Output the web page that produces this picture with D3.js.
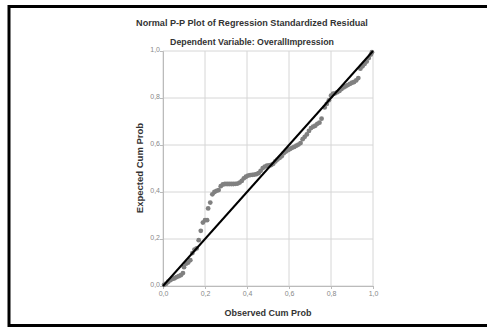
<!DOCTYPE html>
<html>
<head>
<meta charset="utf-8">
<script src="https://cdn.jsdelivr.net/npm/d3@7"></script>
<style>
  body { margin: 0; background: #fff; }
  text { font-family: "Liberation Sans", Arial, sans-serif; }
</style>
</head>
<body>
<div id="wrapper"></div>
<script>
const observed = [0.005, 0.015, 0.025, 0.035, 0.045, 0.055, 0.065, 0.075, 0.085, 0.095,
  0.10, 0.11, 0.12, 0.13, 0.14, 0.15, 0.16, 0.17, 0.18, 0.19,
  0.20, 0.21, 0.215, 0.225, 0.235, 0.245, 0.255, 0.265, 0.275, 0.285,
  0.295, 0.305, 0.315, 0.325, 0.335, 0.345, 0.355, 0.365, 0.375, 0.385,
  0.395, 0.405, 0.415, 0.425, 0.435, 0.445, 0.455, 0.465, 0.475, 0.485,
  0.495, 0.505, 0.515, 0.525, 0.535, 0.545, 0.555, 0.565, 0.575, 0.585,
  0.595, 0.605, 0.615, 0.625, 0.635, 0.645, 0.655, 0.665, 0.675, 0.685,
  0.695, 0.705, 0.715, 0.725, 0.735, 0.745, 0.755, 0.77, 0.78, 0.79,
  0.80, 0.81, 0.82, 0.83, 0.84, 0.85, 0.86, 0.87, 0.88, 0.89,
  0.90, 0.91, 0.92, 0.93, 0.94, 0.95, 0.96, 0.97, 0.98, 0.99, 0.995]
const expected = [0.005, 0.01, 0.018, 0.025, 0.03, 0.033, 0.038, 0.042, 0.046, 0.055,
  0.08, 0.095, 0.10, 0.11, 0.14, 0.155, 0.16, 0.195, 0.235, 0.27,
  0.28, 0.28, 0.33, 0.355, 0.39, 0.40, 0.405, 0.408, 0.425, 0.432,
  0.434, 0.434, 0.434, 0.434, 0.434, 0.435, 0.436, 0.44, 0.447, 0.458,
  0.465, 0.47, 0.472, 0.473, 0.474, 0.476, 0.48, 0.49, 0.502, 0.508,
  0.512, 0.513, 0.515, 0.52, 0.53, 0.538, 0.545, 0.552, 0.565, 0.572,
  0.578, 0.583, 0.588, 0.592, 0.597, 0.602, 0.608, 0.625, 0.635, 0.645,
  0.66, 0.672, 0.678, 0.682, 0.69, 0.695, 0.712, 0.76, 0.775, 0.79,
  0.81, 0.818, 0.82, 0.825, 0.83, 0.838, 0.845, 0.85, 0.855, 0.86,
  0.865, 0.868, 0.875, 0.885, 0.925, 0.935, 0.945, 0.955, 0.97, 0.985, 0.995]
const tickValues = [0, 0.2, 0.4, 0.6, 0.8, 1.0]
const tickLabels = ["0,0", "0,2", "0,4", "0,6", "0,8", "1,0"]
const title = "Normal P-P Plot of Regression Standardized Residual"
const subtitle = "Dependent Variable: OverallImpression"
const xTitle = "Observed Cum Prob"
const yTitle = "Expected Cum Prob"

const dataset = observed.map((d, i) => ({x: d, y: expected[i]}))

let dimensions = {
  width: 487,
  height: 327,
  margin: {top: 51, right: 114, bottom: 41, left: 163},
}
dimensions.boundedWidth = 210
dimensions.boundedHeight = 235

const wrapper = d3.select("#wrapper")
  .append("svg")
  .attr("width", dimensions.width)
  .attr("height", dimensions.height)

// black outer frame
wrapper.append("rect")
  .attr("x", 9)
  .attr("y", 6.5)
  .attr("width", 500)
  .attr("height", 319)
  .attr("fill", "none")
  .attr("stroke", "#000")
  .attr("stroke-width", 3)

wrapper.append("text")
  .attr("x", 252)
  .attr("y", 26)
  .attr("text-anchor", "middle")
  .style("font-size", "9.1px")
  .style("font-weight", "bold")
  .attr("fill", "#333")
  .text(title)

wrapper.append("text")
  .attr("x", 252)
  .attr("y", 45)
  .attr("text-anchor", "middle")
  .style("font-size", "8.8px")
  .style("font-weight", "bold")
  .attr("fill", "#333")
  .text(subtitle)

const bounds = wrapper.append("g")
  .attr("transform", `translate(${dimensions.margin.left}, ${dimensions.margin.top})`)

const xScale = d3.scaleLinear()
  .domain([0, 1])
  .range([0, dimensions.boundedWidth])
const yScale = d3.scaleLinear()
  .domain([0, 1])
  .range([dimensions.boundedHeight, 0])

// grid
bounds.selectAll(".vgrid")
  .data(tickValues)
  .enter().append("line")
  .attr("x1", d => xScale(d)).attr("x2", d => xScale(d))
  .attr("y1", 0).attr("y2", dimensions.boundedHeight)
  .attr("stroke", "#d6d6d6")
  .attr("stroke-width", 1)
bounds.selectAll(".hgrid")
  .data(tickValues)
  .enter().append("line")
  .attr("y1", d => yScale(d)).attr("y2", d => yScale(d))
  .attr("x1", 0).attr("x2", dimensions.boundedWidth)
  .attr("stroke", "#d6d6d6")
  .attr("stroke-width", 1)

const yAxisGenerator = d3.axisLeft(yScale)
  .tickValues(tickValues)
  .tickFormat((d, i) => tickLabels[i])
  .tickSize(3)
const yAxis = bounds.append("g").call(yAxisGenerator)
const xAxisGenerator = d3.axisBottom(xScale)
  .tickValues(tickValues)
  .tickFormat((d, i) => tickLabels[i])
  .tickSize(3)
const xAxis = bounds.append("g")
  .call(xAxisGenerator)
  .attr("transform", `translate(0, ${dimensions.boundedHeight})`)

;[xAxis, yAxis].forEach(ax => {
  ax.select(".domain").attr("stroke", "#bbb")
  ax.selectAll(".tick line").attr("stroke", "#bbb")
  ax.selectAll(".tick text")
    .attr("fill", "#888")
    .style("font-size", "7px")
    .style("font-family", "Liberation Sans, Arial, sans-serif")
})
yAxis.selectAll(".tick text").attr("x", -3).attr("dy", "0.1em")
xAxis.selectAll(".tick text").attr("y", 5)

// points
bounds.selectAll("circle")
  .data(dataset)
  .enter().append("circle")
  .attr("cx", d => xScale(d.x))
  .attr("cy", d => yScale(d.y))
  .attr("r", 2.4)
  .attr("fill", "#808080")

// diagonal reference line
bounds.append("line")
  .attr("x1", xScale(0)).attr("y1", yScale(0))
  .attr("x2", xScale(1)).attr("y2", yScale(1))
  .attr("stroke", "#000")
  .attr("stroke-width", 2)

wrapper.append("text")
  .attr("x", 268)
  .attr("y", 316)
  .attr("text-anchor", "middle")
  .style("font-size", "9px")
  .style("font-weight", "bold")
  .attr("fill", "#333")
  .text(xTitle)

wrapper.append("text")
  .attr("transform", "translate(143, 168) rotate(-90)")
  .attr("text-anchor", "middle")
  .style("font-size", "9.5px")
  .style("font-weight", "bold")
  .attr("fill", "#333")
  .text(yTitle)
</script>
</body>
</html>
